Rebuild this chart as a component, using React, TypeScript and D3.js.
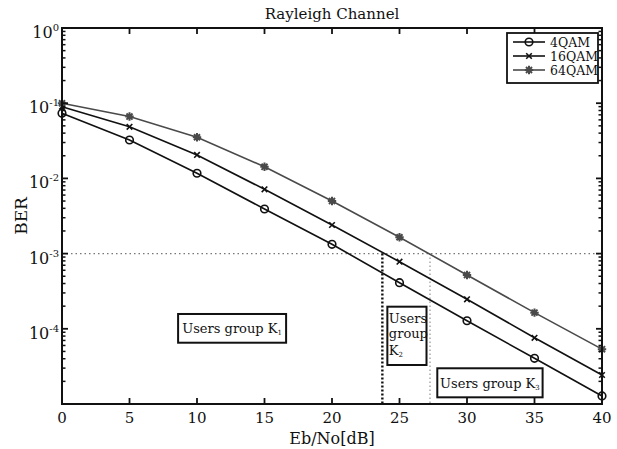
import React from "react";
import * as d3 from "d3";

// ---------- data ----------
const snrDb = [0, 5, 10, 15, 20, 25, 30, 35, 40];
const ber4QAM = [0.0733, 0.0324, 0.0117, 0.00392, 0.00133, 4.1e-4, 1.28e-4, 4.05e-5, 1.28e-5];
const ber16QAM = [0.0898, 0.0486, 0.0205, 0.00716, 0.0024, 7.8e-4, 2.47e-4, 7.6e-5, 2.43e-5];
const ber64QAM = [0.0997, 0.0664, 0.0352, 0.01426, 0.005, 0.00165, 5.2e-4, 1.64e-4, 5.36e-5];
const seriesNames = ["4QAM", "16QAM", "64QAM"];
const xTickValues = [0, 5, 10, 15, 20, 25, 30, 35, 40];
const yTickExponents = [0, -1, -2, -3, -4];
const targetBER = 1e-3;
const thresholdDb = [23.73, 27.26];
const groupMain = ["Users group K", "Users group K", "Users group K"];
const groupSub = ["1", "2", "3"];
const groupX0 = [8.6, 24.1, 27.8];
const groupX1 = [16.6, 27.0, 35.6];
const groupYTop = [1.574e-4, 1.968e-4, 2.985e-5];
const groupYBottom = [6.53e-5, 3.3e-5, 1.227e-5];

// ---------- layout ----------
const W = 617;
const H = 449;
const L = 62, R = 602, T = 28, B = 404;
const FONT = "DejaVu Serif";

const x = d3.scaleLinear().domain([0, 40]).range([L, R]);
const y = d3.scaleLog().domain([1e-5, 1]).range([B, T]);

const seriesData = [ber4QAM, ber16QAM, ber64QAM];
const seriesColor = ["#111", "#111", "#4a4a4a"];

function Marker({ kind, cx, cy, color }: { kind: number; cx: number; cy: number; color: string }) {
  if (kind === 0) {
    return <circle cx={cx} cy={cy} r={3.8} fill="none" stroke={color} strokeWidth={1.6} />;
  }
  if (kind === 1) {
    const s = 2.8;
    return (
      <path
        d={`M${cx - s},${cy - s}L${cx + s},${cy + s}M${cx - s},${cy + s}L${cx + s},${cy - s}`}
        stroke={color}
        strokeWidth={1.6}
      />
    );
  }
  const s = 4.2;
  const d2 = s * 0.72;
  return (
    <path
      d={`M${cx - s},${cy}L${cx + s},${cy}M${cx},${cy - s}L${cx},${cy + s}M${cx - d2},${cy - d2}L${cx + d2},${cy + d2}M${cx - d2},${cy + d2}L${cx + d2},${cy - d2}`}
      stroke={color}
      strokeWidth={2}
    />
  );
}

export default function App() {
  const line = d3
    .line<number>()
    .x((_, i) => x(snrDb[i]))
    .y((v) => y(v));

  const minorTicks: number[] = [];
  for (let e = -5; e < 0; e++) {
    for (let m = 2; m <= 9; m++) minorTicks.push(m * Math.pow(10, e));
  }
  const majorY = [0, -1, -2, -3, -4, -5].map((e) => Math.pow(10, e));

  const legendX = 507, legendY = 33, legendW = 91, legendH = 50;

  return (
    <svg
      width={W}
      height={H}
      style={{ position: "absolute", left: 0, top: 0, background: "#fff" }}
      fontFamily={FONT}
    >
      <rect x={0} y={0} width={W} height={H} fill="#fff" />

      {/* reference lines */}
      <line
        x1={x(0)}
        x2={x(40)}
        y1={y(targetBER)}
        y2={y(targetBER)}
        stroke="#777"
        strokeWidth={1.4}
        strokeDasharray="1.5,3"
      />
      <line
        x1={x(thresholdDb[0])}
        x2={x(thresholdDb[0])}
        y1={y(targetBER)}
        y2={B}
        stroke="#111"
        strokeWidth={2.4}
        strokeDasharray="2,2"
      />
      <line
        x1={x(thresholdDb[1])}
        x2={x(thresholdDb[1])}
        y1={y(targetBER)}
        y2={B}
        stroke="#888"
        strokeWidth={1.1}
        strokeDasharray="1.5,2.5"
      />

      {/* series */}
      {seriesData.map((vals, si) => (
        <g key={si}>
          <path d={line(vals) || ""} fill="none" stroke={seriesColor[si]} strokeWidth={1.6} />
          {vals.map((v, i) => (
            <Marker key={i} kind={si} cx={x(snrDb[i])} cy={y(v)} color={seriesColor[si]} />
          ))}
        </g>
      ))}

      {/* group boxes */}
      {groupMain.map((txt, i) => {
        const bx = x(groupX0[i]);
        const by = y(groupYTop[i]);
        const bw = x(groupX1[i]) - bx;
        const bh = y(groupYBottom[i]) - by;
        if (i === 1) {
          return (
            <g key={i}>
              <rect x={bx} y={by} width={bw} height={bh} fill="#fff" stroke="#111" strokeWidth={2} />
              <text x={bx + 1.5} y={by + 16} fontSize={13} fill="#111">Users</text>
              <text x={bx + 1.5} y={by + 31.5} fontSize={13} fill="#111">group</text>
              <text x={bx + 1.5} y={by + 48} fontSize={13} fill="#111">
                K<tspan fontSize={7} dy={2}>{groupSub[i]}</tspan>
              </text>
            </g>
          );
        }
        return (
          <g key={i}>
            <rect x={bx} y={by} width={bw} height={bh} fill="#fff" stroke="#111" strokeWidth={2} />
            <text x={bx + bw / 2} y={by + bh / 2 + 5} fontSize={13} fill="#111" textAnchor="middle">
              {txt}
              <tspan fontSize={7} dy={2}>{groupSub[i]}</tspan>
            </text>
          </g>
        );
      })}

      {/* axes box */}
      <rect x={L} y={T} width={R - L} height={B - T} fill="none" stroke="#111" strokeWidth={2} />

      {/* x ticks */}
      {xTickValues.map((v) => (
        <g key={v}>
          <line x1={x(v)} x2={x(v)} y1={B} y2={B - 6} stroke="#111" strokeWidth={1.8} />
          <line x1={x(v)} x2={x(v)} y1={T} y2={T + 6} stroke="#111" strokeWidth={1.8} />
          <text x={x(v)} y={423} fontSize={15} textAnchor="middle" fill="#111">
            {v}
          </text>
        </g>
      ))}

      {/* y ticks */}
      {majorY.map((v, i) => (
        <g key={i}>
          <line x1={L} x2={L + 6} y1={y(v)} y2={y(v)} stroke="#111" strokeWidth={1.8} />
          <line x1={R} x2={R - 6} y1={y(v)} y2={y(v)} stroke="#111" strokeWidth={1.8} />
        </g>
      ))}
      {minorTicks.map((v, i) => (
        <g key={"m" + i}>
          <line x1={L} x2={L + 3.5} y1={y(v)} y2={y(v)} stroke="#111" strokeWidth={1.5} />
          <line x1={R} x2={R - 3.5} y1={y(v)} y2={y(v)} stroke="#111" strokeWidth={1.5} />
        </g>
      ))}
      {yTickExponents.map((e) => (
        <text key={e} x={59} y={y(Math.pow(10, e)) + 10} fontSize={16} textAnchor="end" fill="#111">
          10
          <tspan fontSize={10} dy={-7}>
            {e === 0 ? "0" : "-" + Math.abs(e)}
          </tspan>
        </text>
      ))}

      {/* labels */}
      <text x={(L + R) / 2} y={19} fontSize={15} textAnchor="middle" fill="#111">
        Rayleigh Channel
      </text>
      <text x={(L + R) / 2} y={444} fontSize={16} textAnchor="middle" fill="#111">
        Eb/No[dB]
      </text>
      <text
        transform={`translate(27,${(T + B) / 2}) rotate(-90)`}
        fontSize={17}
        textAnchor="middle"
        fill="#111"
      >
        BER
      </text>

      {/* legend */}
      <rect x={legendX} y={legendY} width={legendW} height={legendH} fill="#fff" stroke="#111" strokeWidth={1.8} />
      {seriesNames.map((name, i) => {
        const ly = legendY + 9 + i * 14;
        return (
          <g key={name}>
            <line x1={legendX + 6} x2={legendX + 38} y1={ly} y2={ly} stroke={seriesColor[i]} strokeWidth={1.6} />
            <Marker kind={i} cx={legendX + 22} cy={ly} color={seriesColor[i]} />
            <text x={legendX + 43} y={ly + 4.5} fontSize={12.5} fill="#111">
              {name}
            </text>
          </g>
        );
      })}
    </svg>
  );
}
